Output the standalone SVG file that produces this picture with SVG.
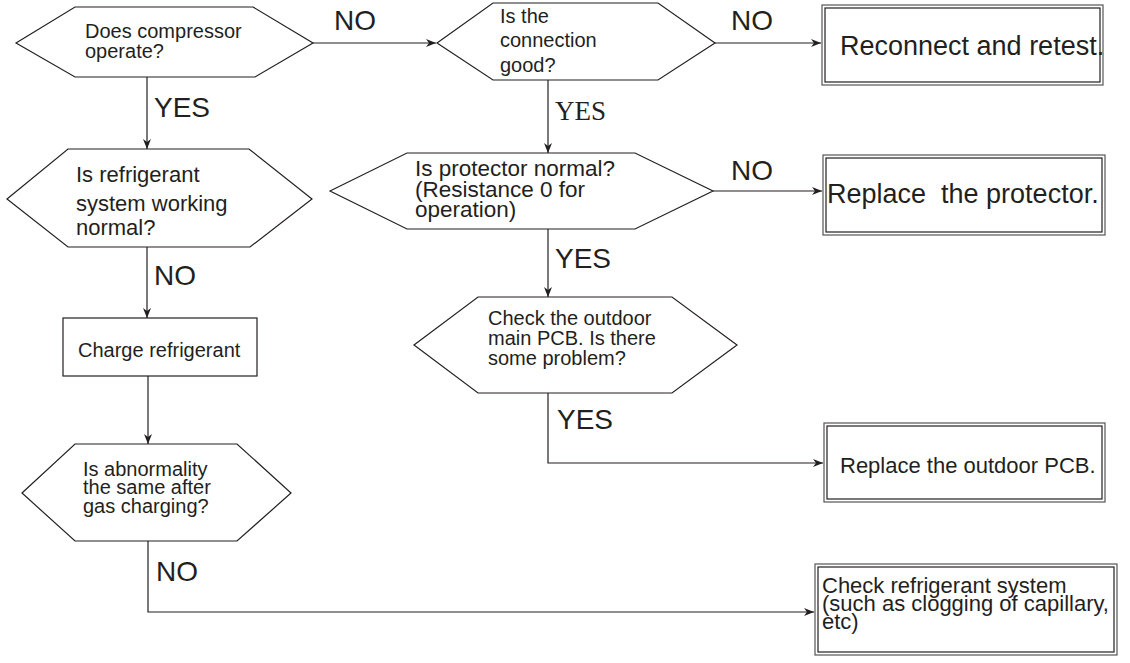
<svg xmlns="http://www.w3.org/2000/svg" width="1130" height="663" viewBox="0 0 1130 663">
<defs>
<marker id="arr" viewBox="0 0 10 8" refX="10" refY="4" markerWidth="10" markerHeight="8" markerUnits="userSpaceOnUse" orient="auto">
<path d="M0,0 L10,4 L0,8 L3,4 z" fill="#231f20"/>
</marker>
<style>
.shape{fill:#fff;stroke:#231f20;stroke-width:1.2}
.outer{fill:#fff;stroke:#555;stroke-width:1.2}
.inner{fill:none;stroke:#231f20;stroke-width:1.2}
.conn{fill:none;stroke:#231f20;stroke-width:1.2}
text{font-family:"Liberation Sans",Arial,sans-serif;fill:#231f20}
.q{font-size:20px}
.lbl{font-size:28px}
.serif{font-family:"Liberation Serif","Times New Roman",serif;font-size:27px}
</style>
</defs>
<rect width="1130" height="663" fill="#fff"/>
<g id="connectors">
<path class="conn" d="M313,43 H436" marker-end="url(#arr)"/>
<path class="conn" d="M715,43 H821" marker-end="url(#arr)"/>
<path class="conn" d="M147,77 V149" marker-end="url(#arr)"/>
<path class="conn" d="M548,80 V153" marker-end="url(#arr)"/>
<path class="conn" d="M713,191 H822" marker-end="url(#arr)"/>
<path class="conn" d="M147,247 V318" marker-end="url(#arr)"/>
<path class="conn" d="M548,229 V297" marker-end="url(#arr)"/>
<path class="conn" d="M148,376 V444" marker-end="url(#arr)"/>
<path class="conn" d="M548,393 V463 H823" marker-end="url(#arr)"/>
<path class="conn" d="M148,541 V612 H814" marker-end="url(#arr)"/>
<text class="lbl" x="334" y="30">NO</text>
<text class="lbl" x="731" y="30">NO</text>
<text class="lbl" x="154" y="117">YES</text>
<text class="serif" x="555" y="120">YES</text>
<text class="lbl" x="731" y="180">NO</text>
<text class="lbl" x="154" y="285">NO</text>
<text class="lbl" x="555" y="268">YES</text>
<text class="lbl" x="557" y="429">YES</text>
<text class="lbl" x="156" y="581">NO</text>
</g>
<g id="n1">
<polygon class="shape" points="16,43 75,7 253,7 313,43 255,77 75,77"/>
<text class="q" x="85" y="38">Does compressor</text>
<text class="q" x="85" y="58">operate?</text>
</g>
<g id="n2">
<polygon class="shape" points="437,43 493,3 658,3 715,43 658,80 493,80"/>
<text class="q" x="500" y="23">Is the</text>
<text class="q" x="500" y="47">connection</text>
<text class="q" x="500" y="72">good?</text>
</g>
<g id="n3">
<rect class="outer" x="822" y="5" width="281" height="80"/>
<rect class="inner" x="825" y="8" width="275" height="74"/>
<text x="840" y="55" style="font-size:27px">Reconnect and retest.</text>
</g>
<g id="n4">
<polygon class="shape" points="7,199 68,149 249,149 312,199 250,247 68,247"/>
<text x="76" y="182" style="font-size:22px">Is refrigerant</text>
<text x="76" y="211" style="font-size:22px">system working</text>
<text x="76" y="235" style="font-size:22px">normal?</text>
</g>
<g id="n5">
<polygon class="shape" points="330,191 407,153 635,153 713,191 635,229 407,229"/>
<text x="415" y="176" style="font-size:22.5px">Is protector normal?</text>
<text x="415" y="196.5" style="font-size:22.5px">(Resistance 0 for</text>
<text x="415" y="217" style="font-size:22.5px">operation)</text>
</g>
<g id="n6">
<rect class="outer" x="823" y="155" width="282" height="80"/>
<rect class="inner" x="826" y="158" width="276" height="74"/>
<text x="827" y="203" style="font-size:27px" xml:space="preserve">Replace  the protector.</text>
</g>
<g id="n7">
<rect class="shape" x="63" y="318" width="194" height="58"/>
<text class="q" x="78" y="357">Charge refrigerant</text>
</g>
<g id="n8">
<polygon class="shape" points="414,345 478,297 672,297 737,345 672,393 478,393"/>
<text class="q" x="488" y="325">Check the outdoor</text>
<text class="q" x="488" y="345">main PCB. Is there</text>
<text class="q" x="488" y="365">some problem?</text>
</g>
<g id="n9">
<rect class="outer" x="824" y="423" width="281" height="79"/>
<rect class="inner" x="827" y="426" width="275" height="73"/>
<text x="840" y="473" style="font-size:22px">Replace the outdoor PCB.</text>
</g>
<g id="n10">
<polygon class="shape" points="22,493 75,444 237,444 291,493 237,541 75,541"/>
<text class="q" x="83" y="476">Is abnormality</text>
<text class="q" x="83" y="494">the same after</text>
<text class="q" x="83" y="513">gas charging?</text>
</g>
<g id="n11">
<rect class="outer" x="815" y="564" width="302" height="91"/>
<rect class="inner" x="818" y="567" width="296" height="85"/>
<text x="822" y="593" style="font-size:22px">Check refrigerant system</text>
<text x="822" y="611" style="font-size:22px">(such as clogging of capillary,</text>
<text x="822" y="629" style="font-size:22px">etc)</text>
</g>
</svg>
